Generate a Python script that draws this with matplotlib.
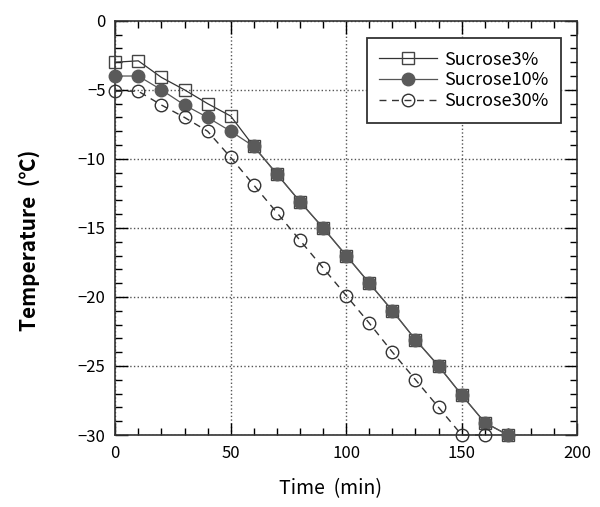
import numpy as np
import matplotlib.pyplot as plt
from matplotlib.ticker import MultipleLocator

plt.rcParams['font.family'] = ['Noto Sans CJK JP', 'DejaVu Sans']

# time (min)
t3 = [0, 10, 20, 30, 40, 50, 60, 70, 80, 90, 100, 110, 120, 130, 140, 150, 160, 170]
t10 = [0, 10, 20, 30, 40, 50, 60, 70, 80, 90, 100, 110, 120, 130, 140, 150, 160, 170]
t30 = [0, 10, 20, 30, 40, 50, 60, 70, 80, 90, 100, 110, 120, 130, 140, 150, 160]

# temperature (C)
suc3 = [-3.0, -2.9, -4.1, -5.0, -6.0, -6.9, -9.1, -11.1, -13.1, -15.0, -17.0, -19.0,
        -21.0, -23.1, -25.0, -27.1, -29.1, -30.0]
suc10 = [-4.0, -4.0, -5.0, -6.1, -7.0, -8.0, -9.1, -11.1, -13.1, -15.0, -17.0, -19.0,
         -21.0, -23.1, -25.0, -27.1, -29.1, -30.0]
suc30 = [-5.1, -5.1, -6.1, -7.0, -8.0, -9.9, -11.9, -13.9, -15.9, -17.9, -19.9, -21.9,
         -24.0, -26.0, -28.0, -30.0, -30.0]

fig = plt.figure(figsize=(6.0, 5.07), dpi=100)
ax = fig.add_axes([0.192, 0.142, 0.770, 0.817])

ax.plot(t3, suc3, '-', color='#333333', lw=0.9, marker='s', ms=9,
        mfc='none', mec='#444444', mew=1.0, label='Sucrose3%', clip_on=False, zorder=3)
ax.plot(t10, suc10, '-', color='#555555', lw=0.9, marker='o', ms=9,
        mfc='#5a5a5a', mec='#5a5a5a', label='Sucrose10%', clip_on=False, zorder=3)
ax.plot(t30, suc30, '--', color='#333333', lw=1.0, dashes=(5, 4), marker='o', ms=9,
        mfc='none', mec='#333333', mew=1.0, label='Sucrose30%', clip_on=False, zorder=3)

ax.set_xlim(0, 200)
ax.set_ylim(-30, 0)
ax.xaxis.set_major_locator(MultipleLocator(50))
ax.xaxis.set_minor_locator(MultipleLocator(10))
ax.yaxis.set_major_locator(MultipleLocator(5))
ax.yaxis.set_minor_locator(MultipleLocator(1))
ax.tick_params(which='both', direction='in', top=True, right=True, labelsize=12, pad=7)
ax.tick_params(which='major', length=9, width=1.0)
ax.tick_params(which='minor', length=5, width=1.0)
ax.grid(which='major', linestyle=':', color='#555555', lw=1.0)
for s in ax.spines.values():
    s.set_linewidth(1.2)
    s.set_color('#333333')

ax.set_xlabel('Time  (min)', fontsize=14)
ax.set_ylabel('Temperature  (℃)', fontsize=15, fontweight='bold')
ax.xaxis.set_label_coords(0.467, -0.105)
ax.yaxis.set_label_coords(-0.162, 0.47)

leg = ax.legend(loc='upper right', bbox_to_anchor=(0.985, 0.98), fontsize=13,
                frameon=True, fancybox=False, edgecolor='#333333', framealpha=1,
                handlelength=3.2, handletextpad=0.4, borderpad=0.7, labelspacing=0.15)
leg.get_frame().set_linewidth(1.3)
leg.set_zorder(5)

fig.savefig('out.png', dpi=100)
